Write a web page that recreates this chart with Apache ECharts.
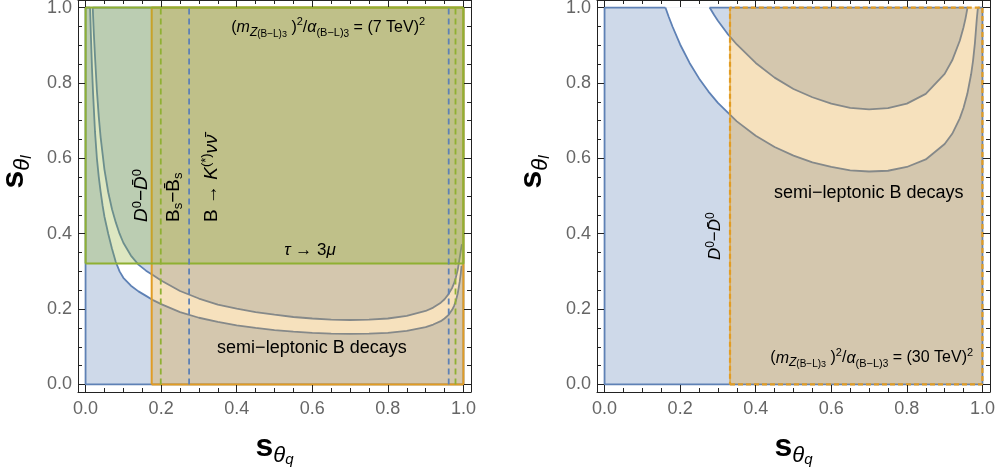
<!DOCTYPE html>
<html><head><meta charset="utf-8">
<script src="https://cdn.jsdelivr.net/npm/echarts@6/dist/echarts.min.js"></script>
<style>html,body{margin:0;padding:0;background:#fff}#c{width:997px;height:472px}</style>
</head><body><div id="c"></div>
<script>
// ---------- data ----------
const tickValues = [0, 0.2, 0.4, 0.6, 0.8, 1.0];
const minorTickValues = [0.05, 0.1, 0.15, 0.25, 0.3, 0.35, 0.45, 0.5, 0.55, 0.65, 0.7, 0.75, 0.85, 0.9, 0.95];

// left panel: (m_Z)^2/alpha = (7 TeV)^2
const p1BandLower = [[0.012,1.0],[0.014,0.93],[0.017,0.84],[0.02,0.77],[0.025,0.67],[0.03,0.60],[0.035,0.55],[0.04,0.51],[0.045,0.475],[0.05,0.445],[0.06,0.40],[0.07,0.36],[0.08,0.325],[0.09,0.30],[0.10,0.283],[0.12,0.262],[0.14,0.247],[0.16,0.235],[0.18,0.223],[0.20,0.213],[0.25,0.192],[0.30,0.177],[0.35,0.166],[0.40,0.157],[0.45,0.150],[0.50,0.144],[0.55,0.140],[0.60,0.137],[0.65,0.135],[0.70,0.134],[0.75,0.135],[0.80,0.137],[0.85,0.142],[0.90,0.152],[0.92,0.159],[0.94,0.168],[0.95,0.175],[0.96,0.184],[0.97,0.198],[0.975,0.208],[0.98,0.222],[0.985,0.242],[0.99,0.272],[0.993,0.295],[0.995,0.315]];
const p1BandUpper = [[0.019,1.0],[0.022,0.93],[0.025,0.87],[0.03,0.78],[0.035,0.71],[0.04,0.655],[0.05,0.57],[0.06,0.51],[0.07,0.465],[0.08,0.43],[0.09,0.40],[0.10,0.376],[0.12,0.342],[0.14,0.318],[0.16,0.302],[0.18,0.289],[0.20,0.276],[0.25,0.248],[0.30,0.228],[0.35,0.212],[0.40,0.201],[0.45,0.192],[0.50,0.185],[0.55,0.179],[0.60,0.175],[0.65,0.172],[0.70,0.171],[0.75,0.172],[0.80,0.175],[0.85,0.182],[0.90,0.195],[0.92,0.204],[0.94,0.217],[0.95,0.226],[0.96,0.239],[0.97,0.256],[0.975,0.268],[0.98,0.284],[0.985,0.305],[0.99,0.335],[0.993,0.355],[0.996,0.372]];
const p1DMixingX = 0.175;     // D0-D0bar bound
const p1TauY = 0.321;         // tau -> 3 mu bound
const p1BsMixingX = [0.199, 0.979];
const p1BKnunuX = [0.274, 0.961];

// right panel: (m_Z)^2/alpha = (30 TeV)^2
const p2BandLower = [[0.161,1.0],[0.17,0.975],[0.18,0.949],[0.20,0.902],[0.225,0.853],[0.25,0.812],[0.275,0.777],[0.30,0.747],[0.35,0.698],[0.40,0.660],[0.45,0.630],[0.50,0.607],[0.55,0.589],[0.60,0.577],[0.65,0.568],[0.70,0.565],[0.75,0.567],[0.80,0.577],[0.85,0.597],[0.90,0.638],[0.92,0.665],[0.94,0.706],[0.95,0.734],[0.96,0.771],[0.97,0.823],[0.975,0.858],[0.98,0.905],[0.985,0.969],[0.988,1.0]];
const p2BandUpper = [[0.278,1.0],[0.29,0.980],[0.30,0.965],[0.325,0.931],[0.35,0.902],[0.40,0.853],[0.45,0.814],[0.50,0.784],[0.55,0.762],[0.60,0.745],[0.65,0.734],[0.70,0.730],[0.75,0.733],[0.80,0.745],[0.85,0.771],[0.90,0.824],[0.92,0.860],[0.94,0.912],[0.95,0.948],[0.955,0.970],[0.9605,1.0]];
const p2DMixingX = 0.332;

// ---------- styles ----------
const FONT = '"Liberation Sans", Arial, sans-serif';
const BLUE = '#5E81B5', ORANGE = '#E19C24', GREEN = '#8FB032';
const BLUE_F = 'rgba(94,129,181,0.3)', ORANGE_F = 'rgba(225,156,36,0.3)', GREEN_F = 'rgba(143,176,50,0.3)';

function axis(g, pos, major, isX) {
  const showLabel = major && (pos === 'bottom' || pos === 'left');
  return {
    type: 'value', gridIndex: g, position: pos, min: -0.02, max: 1.02, z: 50,
    axisLine: { show: major, onZero: false, lineStyle: { color: '#222', width: 1 } },
    axisTick: { show: true, inside: true, length: major ? 7 : 4,
      customValues: major ? tickValues : minorTickValues, lineStyle: { color: '#222', width: 1 } },
    axisLabel: { show: showLabel, customValues: tickValues, formatter: v => v.toFixed(1),
      color: '#666', fontSize: 18, fontFamily: FONT, margin: isX ? 8 : 6 },
    splitLine: { show: false }, minorTick: { show: false }
  };
}
const xAxes = [], yAxes = [];
for (let g = 0; g < 2; g++) {
  xAxes.push(axis(g, 'bottom', true, true), axis(g, 'bottom', false, true), axis(g, 'top', true, true), axis(g, 'top', false, true));
  yAxes.push(axis(g, 'left', true, false), axis(g, 'left', false, false), axis(g, 'right', true, false), axis(g, 'right', false, false));
}

function polygonSeries(points, g, fill, z) {
  return {
    type: 'custom', coordinateSystem: 'cartesian2d', xAxisIndex: g * 4, yAxisIndex: g * 4,
    data: points, z: z, silent: true, animation: false, clip: false,
    renderItem: function (params, api) {
      if (params.dataIndex !== 0) return null;
      const pts = points.map(p => api.coord(p));
      return { type: 'polygon', shape: { points: pts }, style: { fill: fill, stroke: null } };
    }
  };
}
function lineSeries(points, g, color, width, type, z) {
  return {
    type: 'line', xAxisIndex: g * 4, yAxisIndex: g * 4, data: points,
    showSymbol: false, symbol: 'none', silent: true, animation: false, clip: false, z: z,
    lineStyle: { color: color, width: width, type: type || 'solid', cap: 'butt' }
  };
}
function rect(x0, y0, x1, y1) { return [[x0, y0], [x1, y0], [x1, y1], [x0, y1]]; }
function closed(r) { return r.concat([r[0]]); }
function band(lower, upper) { return lower.concat(upper.slice().reverse()); }

const series = [];
// ----- left panel -----
series.push(polygonSeries(rect(0, 0, 1, 1), 0, BLUE_F, 1));
series.push(polygonSeries(band(p1BandLower, p1BandUpper), 0, '#ffffff', 2));
series.push(lineSeries([[p1BandLower[0][0], 1], [0, 1], [0, 0], [1, 0], [1, 1], [p1BandUpper[0][0], 1]], 0, BLUE, 1.8, 'solid', 3));
series.push(lineSeries(p1BandLower, 0, BLUE, 1.8, 'solid', 3));
series.push(lineSeries(p1BandUpper, 0, BLUE, 1.8, 'solid', 3));
series.push(polygonSeries(rect(p1DMixingX, 0, 1, 1), 0, ORANGE_F, 4));
series.push(lineSeries(closed(rect(p1DMixingX, 0, 1, 1)), 0, ORANGE, 2, 'solid', 5));
series.push(polygonSeries(rect(0, p1TauY, 1, 1), 0, GREEN_F, 6));
series.push(lineSeries(closed(rect(0, p1TauY, 1, 1)), 0, GREEN, 2, 'solid', 7));
p1BsMixingX.forEach(x => series.push(lineSeries([[x, 0], [x, 1]], 0, GREEN, 1.8, [6, 4], 8)));
p1BKnunuX.forEach(x => series.push(lineSeries([[x, 0], [x, 1]], 0, BLUE, 1.8, [6, 4], 8)));
// ----- right panel -----
series.push(polygonSeries(rect(0, 0, 1, 1), 1, BLUE_F, 1));
series.push(polygonSeries(band(p2BandLower, p2BandUpper), 1, '#ffffff', 2));
series.push(lineSeries([[p2BandLower[0][0], 1], [0, 1], [0, 0], [1, 0], [1, 1], [p2BandLower[p2BandLower.length - 1][0], 1]], 1, BLUE, 1.8, 'solid', 3));
series.push(lineSeries([[p2BandUpper[p2BandUpper.length - 1][0], 1], [p2BandUpper[0][0], 1]], 1, BLUE, 1.8, 'solid', 3));
series.push(lineSeries(p2BandLower, 1, BLUE, 1.8, 'solid', 3));
series.push(lineSeries(p2BandUpper, 1, BLUE, 1.8, 'solid', 3));
series.push(polygonSeries(rect(p2DMixingX, 0, 1, 1), 1, ORANGE_F, 4));
series.push(lineSeries([[p2DMixingX, 0], [p2DMixingX, 1]], 1, 'rgba(225,156,36,0.6)', 2, 'solid', 5));
series.push(lineSeries(closed(rect(p2DMixingX, 0, 1, 1)), 1, ORANGE, 2.2, [5, 3], 5));

const option = {
  animation: false,
  grid: [
    { left: 78, top: 0, width: 393, height: 392, outerBoundsMode: 'none' },
    { left: 597, top: 0, width: 393, height: 392, outerBoundsMode: 'none' }
  ],
  xAxis: xAxes, yAxis: yAxes, series: series
};

const chart = echarts.init(document.getElementById('c'));
chart.setOption(option);

// ---------- text ----------
function rs(b0) {
  const b = { fontFamily: FONT, color: '#111' };
  return {
    n: Object.assign({}, b, { fontSize: b0, lineHeight: 22, verticalAlign: 'middle' }),
    i: Object.assign({}, b, { fontSize: b0, lineHeight: 22, verticalAlign: 'middle', fontStyle: 'italic' }),
    p: Object.assign({}, b, { fontSize: Math.round(b0 * 0.68), lineHeight: 12, verticalAlign: 'top' }),
    zs: Object.assign({}, b, { fontSize: Math.round(b0 * 0.75), lineHeight: 12, verticalAlign: 'bottom', fontStyle: 'italic' }),
    s1: Object.assign({}, b, { fontSize: Math.round(b0 * 0.68), lineHeight: 12, verticalAlign: 'bottom' }),
    s2: Object.assign({}, b, { fontSize: Math.round(b0 * 0.6), lineHeight: 6, verticalAlign: 'bottom' }),
    s3: Object.assign({}, b, { fontSize: Math.round(b0 * 0.55), lineHeight: 1, verticalAlign: 'bottom' })
  };
}
const titleRich = {
  s: { fontFamily: FONT, fontSize: 32, fontWeight: 'bold', color: '#707070', lineHeight: 40, verticalAlign: 'middle' },
  t: { fontFamily: FONT, fontSize: 22, fontStyle: 'italic', color: '#707070', lineHeight: 32, verticalAlign: 'bottom' },
  q: { fontFamily: FONT, fontSize: 15, fontStyle: 'italic', color: '#707070', lineHeight: 14, verticalAlign: 'bottom' }
};
const formula7 = '{n|(}{i|m}{zs|Z}{s2|(B\u2212L)}{s3|3}{n| )}{p|2}{n|/}{i|\u03b1}{s1|(B\u2212L)}{s2|3}{n| = (7 TeV)}{p|2}';
const formula30 = '{n|(}{i|m}{zs|Z}{s2|(B\u2212L)}{s3|3}{n| )}{p|2}{n|/}{i|\u03b1}{s1|(B\u2212L)}{s2|3}{n| = (30 TeV)}{p|2}';
const ddbar = '{i|D}{p|0}{n|\u2212}{i|D\u0304}{p|0}';
const bsbar = '{n|B}{s1|s}{n|\u2212}{n|B\u0304}{s1|s}';
const bknn = '{n|B \u2192 }{i|K}{p|(*)}{i|\u03bd\u03bd\u0304}';
const tau = '{i|\u03c4}{n| \u2192 3}{i|\u03bc}';
const semi = '{n|semi\u2212leptonic B decays}';

const notes = [
  { g: 0, at: [0.642, 0.946], t: formula7, size: 16, align: 'center' },
  { g: 0, at: [0.594, 0.357], t: tau, size: 17, align: 'center' },
  { g: 0, at: [0.599, 0.097], t: semi, size: 18, align: 'center' },
  { g: 0, at: [0.148, 0.431], t: ddbar, size: 19, align: 'left', rot: true },
  { g: 0, at: [0.234, 0.431], t: bsbar, size: 19, align: 'left', rot: true },
  { g: 0, at: [0.333, 0.431], t: bknn, size: 19, align: 'left', rot: true },
  { g: 1, at: [0.294, 0.330], t: ddbar, size: 17, align: 'left', rot: true },
  { g: 1, at: [0.699, 0.508], t: semi, size: 18, align: 'center' },
  { g: 1, at: [0.707, 0.070], t: formula30, size: 16, align: 'center' }
];
const graphics = notes.map(nt => {
  const p = chart.convertToPixel({ xAxisIndex: nt.g * 4, yAxisIndex: nt.g * 4 }, nt.at);
  return { type: 'text', x: p[0], y: p[1], rotation: nt.rot ? Math.PI / 2 : 0, z: 100, silent: true,
    style: { text: nt.t, rich: rs(nt.size), align: nt.align, verticalAlign: 'middle' } };
});
graphics.push(
  { type: 'text', x: 274.5, y: 447, z: 100, style: { text: '{s|s}{t|\u03b8}{q|q}', rich: titleRich, align: 'center', verticalAlign: 'middle' } },
  { type: 'text', x: 793.5, y: 447, z: 100, style: { text: '{s|s}{t|\u03b8}{q|q}', rich: titleRich, align: 'center', verticalAlign: 'middle' } },
  { type: 'text', x: 14, y: 172, rotation: Math.PI / 2, z: 100, style: { text: '{s|s}{t|\u03b8}{q|l}', rich: titleRich, align: 'center', verticalAlign: 'middle' } },
  { type: 'text', x: 532, y: 172, rotation: Math.PI / 2, z: 100, style: { text: '{s|s}{t|\u03b8}{q|l}', rich: titleRich, align: 'center', verticalAlign: 'middle' } }
);
chart.setOption({ graphic: graphics });
</script></body></html>
